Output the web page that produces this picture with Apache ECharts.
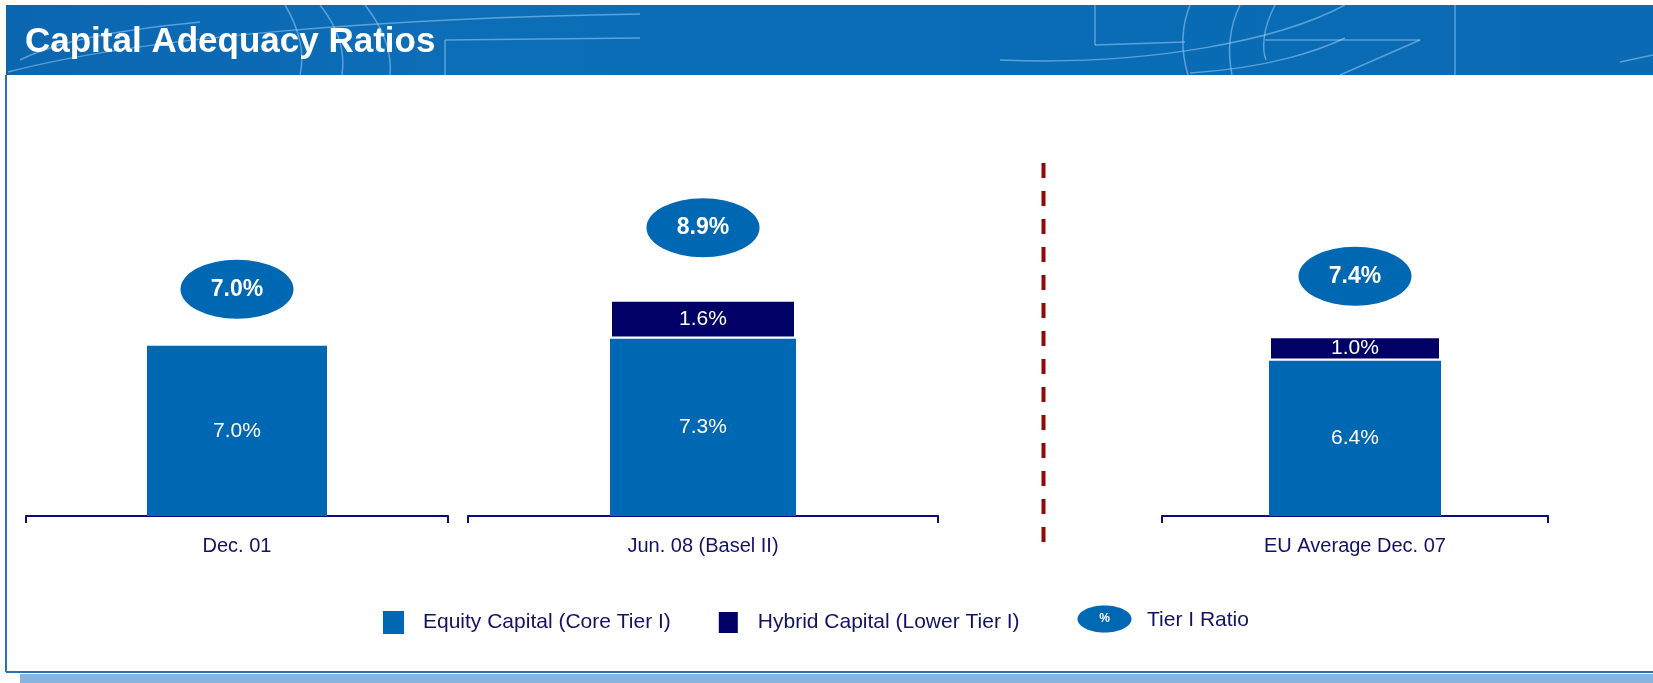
<!DOCTYPE html>
<html>
<head>
<meta charset="utf-8">
<script src="https://cdn.jsdelivr.net/npm/echarts@6/dist/echarts.min.js"></script>
<style>
html,body{margin:0;padding:0;background:#fff;}
#chart{width:1653px;height:683px;}
</style>
</head>
<body>
<div id="chart"></div>
<script>
// ---- data ----
const categories = ['Dec. 01', 'Jun. 08 (Basel II)', 'EU Average Dec. 07'];
const equityCapital = [7.0, 7.3, 6.4];
const hybridCapital = [null, 1.6, 1.0];
const tier1Ratio = [7.0, 8.9, 7.4];
const seriesNames = ['Equity Capital (Core Tier I)', 'Hybrid Capital (Lower Tier I)', 'Tier I Ratio'];
const titleText = 'Capital Adequacy Ratios';

// ---- layout / style ----
const FONT = '"Liberation Sans", Arial, Helvetica, sans-serif';
const BLUE = '#0067b2';
const NAVY = '#000066';
const AXIS = '#0b0b7c';
const TEXT = '#121265';
const gridBoxes = [
  { left: 26, width: 422, barWidth: 180 },
  { left: 468, width: 470, barWidth: 186 },
  { left: 1162, width: 386, barWidth: 172 }
];
const gridTop = 192, gridHeight = 324;

const pct = v => (v == null ? '' : v.toFixed(1) + '%');

const grids = [], xAxes = [], yAxes = [], series = [];
gridBoxes.forEach((g, i) => {
  grids.push({ left: g.left, width: g.width, top: gridTop, height: gridHeight, containLabel: false });
  xAxes.push({
    type: 'category', gridIndex: i, data: [categories[i]],
    axisLine: { lineStyle: { color: AXIS, width: 2 } },
    axisTick: { show: true, length: 7, lineStyle: { color: AXIS, width: 2 } },
    axisLabel: { color: TEXT, fontFamily: FONT, fontSize: 20, margin: 20 }
  });
  yAxes.push({ type: 'value', gridIndex: i, min: 0, max: 13.33, show: false });
  yAxes.push({ type: 'value', gridIndex: i, min: 0, max: 10, show: false });
  series.push({
    name: seriesNames[0], type: 'bar', xAxisIndex: i, yAxisIndex: 2 * i, stack: 'tier' + i,
    barWidth: g.barWidth, data: [equityCapital[i]],
    itemStyle: { color: BLUE },
    label: { show: true, position: 'inside', color: '#fff', fontFamily: FONT, fontSize: 21, formatter: p => pct(p.value) }
  });
  series.push({
    name: seriesNames[1], type: 'bar', xAxisIndex: i, yAxisIndex: 2 * i, stack: 'tier' + i,
    barWidth: g.barWidth, data: [hybridCapital[i]],
    itemStyle: { color: NAVY, borderColor: '#ffffff', borderWidth: 2 },
    label: { show: true, position: 'inside', color: '#fff', fontFamily: FONT, fontSize: 21, formatter: p => pct(p.value) }
  });
  series.push({
    name: seriesNames[2], type: 'scatter', xAxisIndex: i, yAxisIndex: 2 * i + 1, clip: false,
    data: [tier1Ratio[i]], symbol: 'circle', symbolSize: [113, 59], z: 5,
    itemStyle: { color: BLUE, opacity: 1 },
    label: { show: true, position: 'inside', color: '#fff', fontFamily: FONT, fontSize: 23, fontWeight: 'bold', formatter: p => pct(p.value) }
  });
});

const chart = echarts.init(document.getElementById('chart'), null, { renderer: 'canvas' });

const curve = (pts) => ({
  type: 'bezierCurve', silent: true, z: 1,
  shape: { x1: pts[0], y1: pts[1], cpx1: pts[2], cpy1: pts[3], cpx2: pts[4], cpy2: pts[5], x2: pts[6], y2: pts[7] },
  style: { stroke: 'rgba(170,215,250,0.5)', lineWidth: 1.5, fill: null }
});
const seg = (x1, y1, x2, y2) => ({
  type: 'line', silent: true, z: 1,
  shape: { x1, y1, x2, y2 },
  style: { stroke: 'rgba(170,215,250,0.5)', lineWidth: 1.5 }
});

chart.setOption({
  animation: false,
  backgroundColor: '#ffffff',
  grid: grids, xAxis: xAxes, yAxis: yAxes, series: series,
  legend: {
    data: [seriesNames[0], seriesNames[1]],
    left: 383, top: 610, padding: 0,
    itemWidth: 21, itemHeight: 23, itemGap: 46, icon: 'rect',
    selectedMode: false,
    textStyle: { color: TEXT, fontFamily: FONT, fontSize: 21, padding: [0, 0, 0, 14] }
  },
  graphic: [
    // header band
    { type: 'rect', silent: true, z: 0, shape: { x: 6, y: 5, width: 1647, height: 70 },
      style: { fill: new echarts.graphic.LinearGradient(0, 0, 1, 0, [
        { offset: 0, color: '#0b66b0' }, { offset: 0.3, color: '#0d6eb8' },
        { offset: 0.6, color: '#0a6cb6' }, { offset: 1, color: '#0b6ab4' }]) } },
    curve([8, 72, 150, 35, 400, 18, 640, 14]),
    curve([20, 60, 60, 40, 120, 30, 200, 22]),
    curve([285, 5, 300, 30, 305, 55, 300, 75]),
    curve([320, 5, 340, 30, 345, 55, 342, 75]),
    curve([365, 5, 385, 30, 392, 55, 390, 75]),
    seg(445, 40, 640, 38), seg(445, 40, 445, 75),
    seg(1095, 5, 1095, 45), seg(1095, 45, 1185, 42),
    curve([1000, 60, 1150, 66, 1280, 40, 1345, 5]),
    curve([1190, 5, 1180, 30, 1182, 55, 1188, 75]),
    curve([1240, 5, 1228, 30, 1228, 55, 1232, 75]),
    curve([1275, 5, 1262, 30, 1262, 50, 1266, 60]),
    curve([1190, 73, 1270, 68, 1320, 50, 1345, 38]),
    seg(1265, 40, 1420, 40), seg(1420, 40, 1340, 75),
    seg(1455, 5, 1455, 75), seg(1620, 62, 1653, 55),
    { type: 'text', silent: true, z: 2, style: { x: 25, y: 42, text: titleText, fill: '#ffffff',
      font: 'bold 35px ' + FONT, textVerticalAlign: 'middle' } },
    // frame
    { type: 'line', silent: true, shape: { x1: 6, y1: 75, x2: 6, y2: 672 }, style: { stroke: '#2a72b6', lineWidth: 2 } },
    { type: 'line', silent: true, shape: { x1: 6, y1: 672, x2: 1653, y2: 672 }, style: { stroke: '#2a72b6', lineWidth: 2 } },
    { type: 'rect', silent: true, shape: { x: 20, y: 674, width: 1633, height: 9 }, style: { fill: '#86b5df' } },
    // separator
    { type: 'line', silent: true, shape: { x1: 1043.5, y1: 163, x2: 1043.5, y2: 546 },
      style: { stroke: '#8c0a0a', lineWidth: 4, lineDash: [15, 13] } },
    // third legend item
    { type: 'ellipse', silent: true, shape: { cx: 1104.5, cy: 619, rx: 27, ry: 13.5 }, style: { fill: BLUE } },
    { type: 'text', silent: true, style: { x: 1104.5, y: 619, text: '%', fill: '#fff', font: 'bold 12px ' + FONT,
      textAlign: 'center', textVerticalAlign: 'middle' } },
    { type: 'text', silent: true, style: { x: 1147, y: 620, text: seriesNames[2], fill: TEXT, font: '21px ' + FONT,
      textVerticalAlign: 'middle' } }
  ]
});
</script>
</body>
</html>
